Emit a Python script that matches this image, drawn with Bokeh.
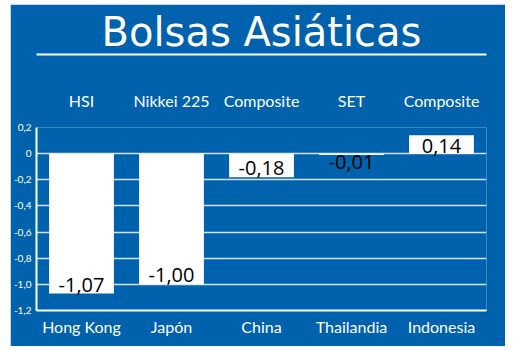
from bokeh.plotting import figure
from bokeh.models import Range1d, LinearAxis, FixedTicker, ColumnDataSource
from bokeh.embed import file_html
from bokeh.resources import INLINE
from bokeh.core.properties import value

# ---- data ----
countries = ["Hong Kong", "Japón", "China", "Thailandia", "Indonesia"]
indices = ["HSI", "Nikkei 225", "Composite", "SET", "Composite"]
changes = [-1.07, -1.00, -0.18, -0.01, 0.14]
change_labels = ["-1,07", "-1,00", "-0,18", "-0,01", "0,14"]
y_ticks = [0.2, 0.0, -0.2, -0.4, -0.6, -0.8, -1.0, -1.2]
y_tick_labels = ["0,2", "0", "-0,2", "-0,4", "-0,6", "-0,8", "-1,0", "-1,2"]
title_text = "Bolsas Asiáticas"

BLUE = "#0062AC"
GRID = "#cfe4f6"

n = len(countries)
centers = [i + 0.5 for i in range(n)]

# label placement derived from values
label_y, label_base, label_off = [], [], []
for v in changes:
    if v >= 0:
        label_y.append(0.0); label_base.append("bottom"); label_off.append(-1)
    elif v <= -0.15:
        label_y.append(v); label_base.append("bottom"); label_off.append(-2)
    else:
        label_y.append(v); label_base.append("top"); label_off.append(0)

src = ColumnDataSource(dict(x=centers, change=changes, label=change_labels,
                            ly=label_y, lb=label_base, lo=label_off))

p = figure(width=495, height=342, title=None,
           x_range=Range1d(0, n), y_range=Range1d(-1.2, 0.2),
           output_backend="svg", toolbar_location=None,
           background_fill_color=BLUE, border_fill_color=BLUE,
           outline_line_color=None,
           min_border_left=26, min_border_right=19,
           min_border_top=123, min_border_bottom=36)
p.margin = (4, 15, 5, 10)

p.vbar(x="x", top="change", bottom=0, width=0.72, source=src,
       fill_color="white", line_color=None)

p.text(x="x", y="ly", text="label", source=src,
       text_align="center", text_baseline="lb", y_offset="lo",
       text_font=value("Open Sans"), text_font_size="20px", text_color="black")

# grid
p.xgrid.visible = False
p.ygrid.ticker = FixedTicker(ticks=y_ticks)
p.ygrid.grid_line_color = GRID
p.ygrid.grid_line_width = 1.5


def plain(ax):
    ax.major_tick_out = 0
    ax.major_tick_in = 0
    ax.minor_tick_out = 0
    ax.minor_tick_in = 0
    ax.major_tick_line_color = None
    ax.minor_tick_line_color = None


# y axis
ya = p.yaxis[0]
ya.ticker = FixedTicker(ticks=y_ticks)
ya.major_label_overrides = dict(zip(y_ticks, y_tick_labels))
ya.major_label_text_color = "white"
ya.major_label_text_font = "Lato"
ya.major_label_text_font_size = "10px"
ya.major_label_standoff = 5
plain(ya)
ya.axis_line_color = "white"
ya.axis_line_width = 2

# bottom x axis (countries)
xa = p.xaxis[0]
xa.ticker = FixedTicker(ticks=centers)
xa.major_label_overrides = dict(zip(centers, countries))
xa.major_label_text_color = "white"
xa.major_label_text_font = "Lato"
xa.major_label_text_font_size = "16px"
xa.major_label_standoff = 6
plain(xa)
xa.axis_line_color = "white"
xa.axis_line_width = 2

# top axis (index names)
ta = LinearAxis(ticker=FixedTicker(ticks=centers),
                major_label_overrides=dict(zip(centers, indices)))
ta.major_label_text_color = "white"
ta.major_label_text_font = "Lato"
ta.major_label_text_font_size = "16px"
ta.major_label_standoff = 18
plain(ta)
ta.axis_line_color = None
ta.axis_label = " "
ta.axis_label_text_font_size = "24px"
ta.axis_label_standoff = 3
p.add_layout(ta, "above")

# white rule with the chart title above it
ua = LinearAxis(ticker=FixedTicker(ticks=[]))
plain(ua)
ua.major_label_text_font_size = "0px"
ua.axis_line_color = "white"
ua.axis_line_width = 2
ua.axis_label = title_text
ua.axis_label_text_font = "DejaVu Sans"
ua.axis_label_text_font_size = "40px"
ua.axis_label_text_font_style = "normal"
ua.axis_label_text_color = "white"
ua.axis_label_standoff = 0
p.add_layout(ua, "above")

open("out.html", "w").write(file_html(p, INLINE))
